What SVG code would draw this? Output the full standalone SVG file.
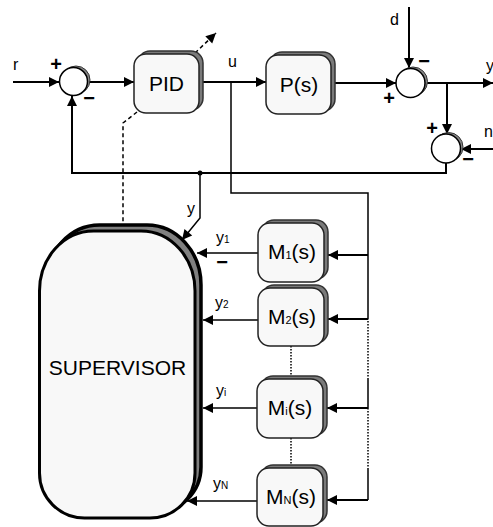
<svg xmlns="http://www.w3.org/2000/svg" width="493" height="527" viewBox="0 0 493 527">
<defs>
<marker id="ah" markerUnits="userSpaceOnUse" markerWidth="10" markerHeight="10" refX="10" refY="5" orient="auto" overflow="visible">
<path d="M0,0 L10,5 L0,10 z" fill="#000"/>
</marker>
</defs>
<style>
.ln{fill:none;stroke:#000;stroke-width:2}
.th{fill:none;stroke:#000;stroke-width:1.5}
.da{fill:none;stroke:#000;stroke-width:1.5;stroke-dasharray:4,3}
.dt{fill:none;stroke:#000;stroke-width:1.5;stroke-dasharray:1.5,1.5}
.box{fill:#f8f8f8;stroke:#222;stroke-width:1.5}
.sh{fill:#7a7a7a;stroke:#333;stroke-width:1.5}
.cir{fill:#fff;stroke:#000;stroke-width:1.5}
.t{font-family:"Liberation Sans",Arial,sans-serif;font-size:21px;fill:#000}
.l{font-family:"Liberation Sans",Arial,sans-serif;font-size:16px;fill:#000}
.s{font-family:"Liberation Sans",Arial,sans-serif;font-size:20px;font-weight:bold;fill:#000}
</style>
<rect width="493" height="527" fill="#fff"/>

<g id="connectors">
<line class="ln" x1="13" y1="82" x2="59" y2="82" marker-end="url(#ah)"/>
<line class="ln" x1="88" y1="82" x2="134" y2="82" marker-end="url(#ah)"/>
<line class="ln" x1="203" y1="82" x2="266" y2="82" marker-end="url(#ah)"/>
<polyline class="th" points="231,82 231,193 368,193 368,318"/>
<line class="dt" x1="368" y1="318" x2="368" y2="378"/>
<line class="th" x1="368" y1="378" x2="368" y2="408"/>
<line class="dt" x1="368" y1="408" x2="368" y2="468"/>
<line class="th" x1="368" y1="468" x2="368" y2="500"/>
<line class="ln" x1="368" y1="255" x2="328" y2="255" marker-end="url(#ah)"/>
<line class="ln" x1="368" y1="319" x2="328" y2="319" marker-end="url(#ah)"/>
<line class="ln" x1="368" y1="408" x2="327" y2="408" marker-end="url(#ah)"/>
<line class="ln" x1="368" y1="500" x2="327" y2="500" marker-end="url(#ah)"/>
<line class="ln" x1="335" y1="83" x2="396" y2="83" marker-end="url(#ah)"/>
<line class="ln" x1="409" y1="7" x2="409" y2="68" marker-end="url(#ah)"/>
<line class="ln" x1="425" y1="83" x2="493" y2="83" marker-end="url(#ah)"/>
<line class="ln" x1="447" y1="83" x2="447" y2="134" marker-end="url(#ah)"/>
<line class="ln" x1="493" y1="149" x2="461" y2="149" marker-end="url(#ah)"/>
<polyline class="ln" points="446,163 446,173 72,173 72,96" marker-end="url(#ah)"/>
<circle cx="200" cy="173" r="2.5" fill="#000"/>
<polyline class="th" points="200,173 200,218 182,240" marker-end="url(#ah)"/>
<polyline class="da" points="137,112 123,123 123,224"/>
<line class="da" x1="195" y1="53" x2="216" y2="33" marker-end="url(#ah)"/>
<line class="th" x1="258" y1="253" x2="197" y2="253" marker-end="url(#ah)"/>
<line class="th" x1="258" y1="320" x2="203" y2="320" marker-end="url(#ah)"/>
<line class="th" x1="258" y1="408" x2="203" y2="408" marker-end="url(#ah)"/>
<line class="th" x1="258" y1="501" x2="187" y2="501" marker-end="url(#ah)"/>
<line class="dt" x1="291" y1="346" x2="291" y2="379"/>
<line class="dt" x1="291" y1="438" x2="291" y2="468"/>
</g>

<g id="sum1">
<circle cx="76" cy="80" r="14" fill="#888" stroke="#333" stroke-width="1"/>
<circle class="cir" cx="73.5" cy="81.5" r="14"/>
<text class="s" x="56" y="71" text-anchor="middle">+</text>
<text class="s" x="89" y="105" text-anchor="middle">−</text>
</g>

<g id="sum2">
<circle cx="413" cy="81.5" r="14.5" fill="#888" stroke="#333" stroke-width="1"/>
<circle class="cir" cx="410.5" cy="83" r="14.5"/>
<text class="s" x="424" y="68" text-anchor="middle">−</text>
<text class="s" x="389" y="105" text-anchor="middle">+</text>
</g>

<g id="sum3">
<circle cx="448.5" cy="147" r="14.5" fill="#888" stroke="#333" stroke-width="1"/>
<circle class="cir" cx="446" cy="148.5" r="14.5"/>
<text class="s" x="432" y="135" text-anchor="middle">+</text>
<text class="s" x="468" y="166" text-anchor="middle">−</text>
</g>

<g id="pid">
<rect class="sh" x="138" y="51" width="65" height="59" rx="12"/>
<rect class="box" x="134" y="54" width="65" height="59" rx="12"/>
<text class="t" x="166.5" y="91" text-anchor="middle">PID</text>
</g>

<g id="plant">
<rect class="sh" x="270" y="52" width="65" height="59" rx="12"/>
<rect class="box" x="266" y="55" width="65" height="59" rx="12"/>
<text class="t" x="299" y="92" text-anchor="middle">P(s)</text>
</g>

<g id="m1">
<rect class="sh" x="262" y="220" width="66" height="59" rx="12"/>
<rect class="box" x="258" y="223" width="66" height="59" rx="12"/>
<text class="t" x="292" y="259" text-anchor="middle">M<tspan font-size="11">1</tspan>(s)</text>
</g>

<g id="m2">
<rect class="sh" x="262" y="285" width="66" height="58" rx="12"/>
<rect class="box" x="258" y="288" width="66" height="58" rx="12"/>
<text class="t" x="292" y="324" text-anchor="middle">M<tspan font-size="11">2</tspan>(s)</text>
</g>

<g id="mi">
<rect class="sh" x="261" y="376" width="66" height="59" rx="12"/>
<rect class="box" x="257" y="379" width="66" height="59" rx="12"/>
<text class="t" x="290" y="415" text-anchor="middle">M<tspan font-size="11">i</tspan>(s)</text>
</g>

<g id="mn">
<rect class="sh" x="261" y="465" width="66" height="58" rx="12"/>
<rect class="box" x="257" y="468" width="66" height="58" rx="12"/>
<text class="t" x="291" y="504" text-anchor="middle">M<tspan font-size="11">N</tspan>(s)</text>
</g>

<g id="supervisor">
<path d="M99.5,225 H147 A54,60 0 0 1 201,285 V467 A45,45 0 0 1 156,512 H90.5 A45,45 0 0 1 45.5,467 V285 A54,60 0 0 1 99.5,225 Z" fill="#808080" stroke="#000" stroke-width="3.5"/>
<path d="M93.5,231 H141 A54,60 0 0 1 195,291 V473 A45,45 0 0 1 150,518 H84.5 A45,45 0 0 1 39.5,473 V291 A54,60 0 0 1 93.5,231 Z" fill="#f8f8f8" stroke="#000" stroke-width="3"/>
<text class="t" x="117.5" y="375" text-anchor="middle">SUPERVISOR</text>
</g>

<g id="labels">
<text class="l" x="13" y="70">r</text>
<text class="l" x="228" y="67">u</text>
<text class="l" x="390" y="25">d</text>
<text class="l" x="486" y="71">y</text>
<text class="l" x="484" y="137">n</text>
<text class="l" x="187" y="214">y</text>
<text class="l" x="216" y="243">y<tspan font-size="10">1</tspan></text>
<text class="s" x="222" y="269" text-anchor="middle">−</text>
<text class="l" x="215" y="308">y<tspan font-size="10">2</tspan></text>
<text class="l" x="216" y="396">y<tspan font-size="10">i</tspan></text>
<text class="l" x="213" y="489">y<tspan font-size="10">N</tspan></text>
</g>
</svg>
